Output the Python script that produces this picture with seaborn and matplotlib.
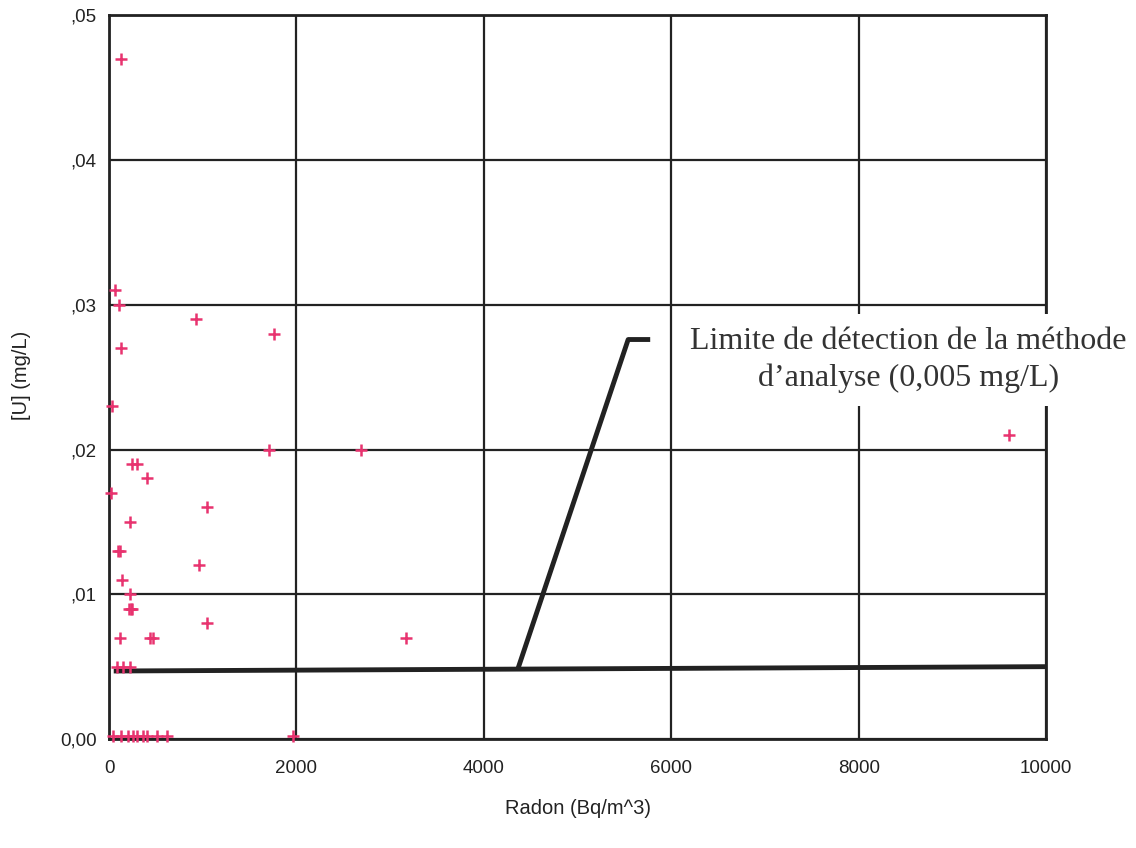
import matplotlib

matplotlib.use("Agg")
import matplotlib.pyplot as plt
import pandas as pd
import seaborn as sns

# Radon (Bq/m^3) vs uranium concentration (mg/L)
radon = [
    125, 60, 110, 930, 1760, 130, 30, 1710, 2690, 240, 300, 400, 20, 1040,
    220, 100, 120, 960, 140, 220, 210, 230, 240, 1050, 120, 440, 470,
    90, 150, 220, 3170, 9600, 1960,
    46, 128, 206, 260, 302, 360, 409, 509, 622,
]
uranium = [
    0.047, 0.031, 0.030, 0.029, 0.028, 0.027, 0.023, 0.020, 0.020, 0.019, 0.019, 0.018, 0.017, 0.016,
    0.015, 0.013, 0.013, 0.012, 0.011, 0.010, 0.009, 0.009, 0.009, 0.008, 0.007, 0.007, 0.007,
    0.005, 0.005, 0.005, 0.007, 0.021, 0.0002,
    0.0002, 0.0002, 0.0002, 0.0002, 0.0002, 0.0002, 0.0002, 0.0002, 0.0002,
]

# detection limit line and the callout leader
limit_x = [50, 10000]
limit_y = [0.0047, 0.0050]
leader_x = [4365, 5539, 5774]
leader_y = [0.0049, 0.0276, 0.0276]
note_text = "Limite de détection de la méthode\nd\u2019analyse (0,005 mg/L)"

x_ticks = [0, 2000, 4000, 6000, 8000, 10000]
y_ticks = [0.0, 0.01, 0.02, 0.03, 0.04, 0.05]
y_tick_labels = ["0,00", ",01", ",02", ",03", ",04", ",05"]

df = pd.DataFrame({"radon": radon, "uranium": uranium})

sns.set_style("white")
plt.rcParams["font.family"] = ["Liberation Sans", "DejaVu Sans"]

fig = plt.figure(figsize=(11.36, 8.48), dpi=100)
ax = fig.add_axes([0.096, 0.1285, 0.825, 0.8535])

sns.scatterplot(
    data=df, x="radon", y="uranium", marker="+", s=85, linewidth=1.8,
    color="#e8336f", ax=ax, zorder=4, clip_on=False,
)
ax.plot(limit_x, limit_y, color="#222222", lw=3.5, solid_capstyle="butt", zorder=3)
ax.plot(leader_x, leader_y, color="#222222", lw=3.5, solid_capstyle="butt", zorder=3)

ax.text(
    8527, 0.0262, note_text, ha="center", va="center", multialignment="center",
    family=["Liberation Serif", "DejaVu Serif"], fontsize=23, color="#333333",
    linespacing=1.35,
    bbox=dict(boxstyle="square,pad=0.4", facecolor="white", edgecolor="none"),
    zorder=5, clip_on=False,
)

ax.set_xlim(0, 10000)
ax.set_ylim(0, 0.05)
ax.set_xticks(x_ticks)
ax.set_yticks(y_ticks)
ax.set_yticklabels(y_tick_labels)
ax.tick_params(axis="both", length=0, labelsize=13.5, colors="#222222")
ax.tick_params(axis="x", pad=15)
ax.tick_params(axis="y", pad=9)

ax.grid(True, color="#222222", lw=1.6)
ax.set_axisbelow(True)
for spine in ax.spines.values():
    spine.set_color("#222222")
    spine.set_linewidth(2)

ax.set_xlabel("Radon (Bq/m^3)", fontsize=14.5, color="#222222")
ax.set_ylabel("[U] (mg/L)", fontsize=14.5, color="#222222")
ax.xaxis.set_label_coords(0.5, -0.083)
ax.yaxis.set_label_coords(-0.083, 0.503)

fig.savefig("out.png", dpi=100)
